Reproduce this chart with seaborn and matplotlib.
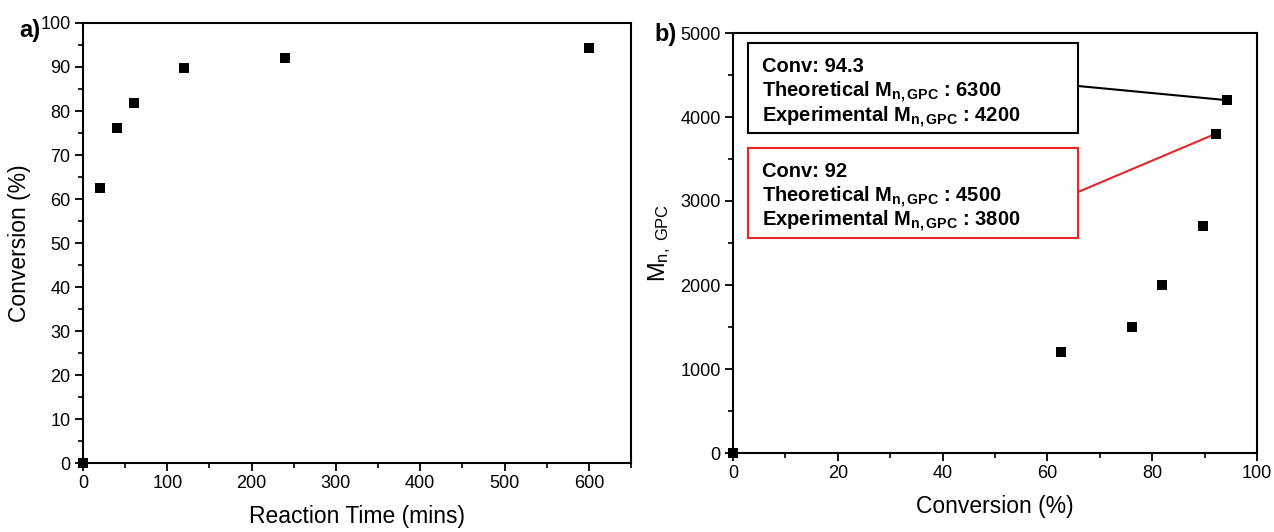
import matplotlib
matplotlib.use("Agg")
import matplotlib.pyplot as plt
import seaborn as sns
import pandas as pd
from matplotlib.patches import Rectangle
from matplotlib.ticker import MultipleLocator

# ---- data ----
time_min = [0, 20, 40, 60, 120, 240, 600]
conversion = [0, 62.5, 76.1, 81.8, 89.7, 92.1, 94.3]
mn_gpc = [0, 1200, 1500, 2000, 2700, 3800, 4200]

box1_lines = ["Conv: 94.3",
              r"Theoretical $\mathbf{M_{n,GPC}}$ : 6300",
              r"Experimental $\mathbf{M_{n,GPC}}$ : 4200"]
box2_lines = ["Conv: 92",
              r"Theoretical $\mathbf{M_{n,GPC}}$ : 4500",
              r"Experimental $\mathbf{M_{n,GPC}}$ : 3800"]
box1_point = (94.3, 4200)
box2_point = (92.1, 3800)

sns.set_style("ticks")
plt.rcParams["font.family"] = ["Liberation Sans", "DejaVu Sans"]
plt.rcParams["mathtext.fontset"] = "custom"
plt.rcParams["mathtext.rm"] = "Liberation Sans"
plt.rcParams["mathtext.it"] = "Liberation Sans"
plt.rcParams["mathtext.bf"] = "Liberation Sans:bold"
plt.rcParams["text.color"] = "black"
plt.rcParams["axes.labelcolor"] = "black"
plt.rcParams["xtick.color"] = "black"
plt.rcParams["ytick.color"] = "black"

fig = plt.figure(figsize=(12.74, 5.32), dpi=100)
ax1 = fig.add_axes([83/1274, 1-463/532, (631-83)/1274, (463-23)/532])
ax2 = fig.add_axes([733/1274, 1-453/532, (1257-733)/1274, (453-33)/532])

df1 = pd.DataFrame({"t": time_min, "c": conversion})
df2 = pd.DataFrame({"c": conversion, "m": mn_gpc})

sq = 50
sns.scatterplot(data=df1, x="t", y="c", ax=ax1, marker="s", s=sq, color="black",
                edgecolor="black", linewidth=0, clip_on=False, zorder=5)
sns.scatterplot(data=df2, x="c", y="m", ax=ax2, marker="s", s=sq, color="black",
                edgecolor="black", linewidth=0, clip_on=False, zorder=5)

ax1.set_xlim(0, 650)
ax1.set_ylim(0, 100)
ax1.xaxis.set_major_locator(MultipleLocator(100))
ax1.xaxis.set_minor_locator(MultipleLocator(50))
ax1.yaxis.set_major_locator(MultipleLocator(10))
ax1.yaxis.set_minor_locator(MultipleLocator(5))
ax1.set_xlabel("Reaction Time (mins)", fontsize=16.5, labelpad=9)
ax1.set_ylabel("Conversion (%)", fontsize=16.5, labelpad=7)

ax2.set_xlim(0, 100)
ax2.set_ylim(0, 5000)
ax2.xaxis.set_major_locator(MultipleLocator(20))
ax2.xaxis.set_minor_locator(MultipleLocator(10))
ax2.yaxis.set_major_locator(MultipleLocator(1000))
ax2.yaxis.set_minor_locator(MultipleLocator(500))
ax2.set_xlabel("Conversion (%)", fontsize=16.5, labelpad=9)
ax2.set_ylabel(r"$\mathregular{M_{n,\ GPC}}$", fontsize=17, labelpad=5)

for ax in (ax1, ax2):
    for sp in ax.spines.values():
        sp.set_visible(True)
        sp.set_linewidth(1.5)
        sp.set_color("black")
    ax.tick_params(which="major", direction="out", length=6, width=1.3,
                   labelsize=13, colors="black", pad=3)
    ax.tick_params(which="minor", direction="out", length=3.5, width=1.2, colors="black")
    ax.tick_params(top=False, right=False, which="both")

fig.text(19/1274, 1-31/532, "a)", fontsize=17, fontweight="bold", va="center", ha="left")
fig.text(654/1274, 1-34/532, "b)", fontsize=17, fontweight="bold", va="center", ha="left")

# annotation boxes (axes fraction)
H = 420.0
bx0, bx1 = 15/524, 345/524
boxes = [
    (box1_lines, (453-133)/H, (453-43)/H, "black", (453-86)/H, box1_point, [72, 97, 122]),
    (box2_lines, (453-238)/H, (453-148)/H, "#e8262a", (453-192)/H, box2_point, [177, 202, 226]),
]
for lines, y0, y1, col, ly, pt, ys in boxes:
    ax2.add_patch(Rectangle((bx0, y0), bx1-bx0, y1-y0, transform=ax2.transAxes,
                            fill=False, edgecolor=col, linewidth=1.5, zorder=6))
    for txt, yy in zip(lines, ys):
        ax2.text(29/524, (453-yy)/H, txt, transform=ax2.transAxes,
                 fontsize=14.5, fontweight="bold", va="baseline", ha="left", zorder=7)
    ax2.annotate("", xy=pt, xycoords="data", xytext=(bx1, ly), textcoords="axes fraction",
                 arrowprops=dict(arrowstyle="-", color=col, lw=1.5, shrinkA=0, shrinkB=0),
                 zorder=4)

fig.savefig("out.png", dpi=100)
